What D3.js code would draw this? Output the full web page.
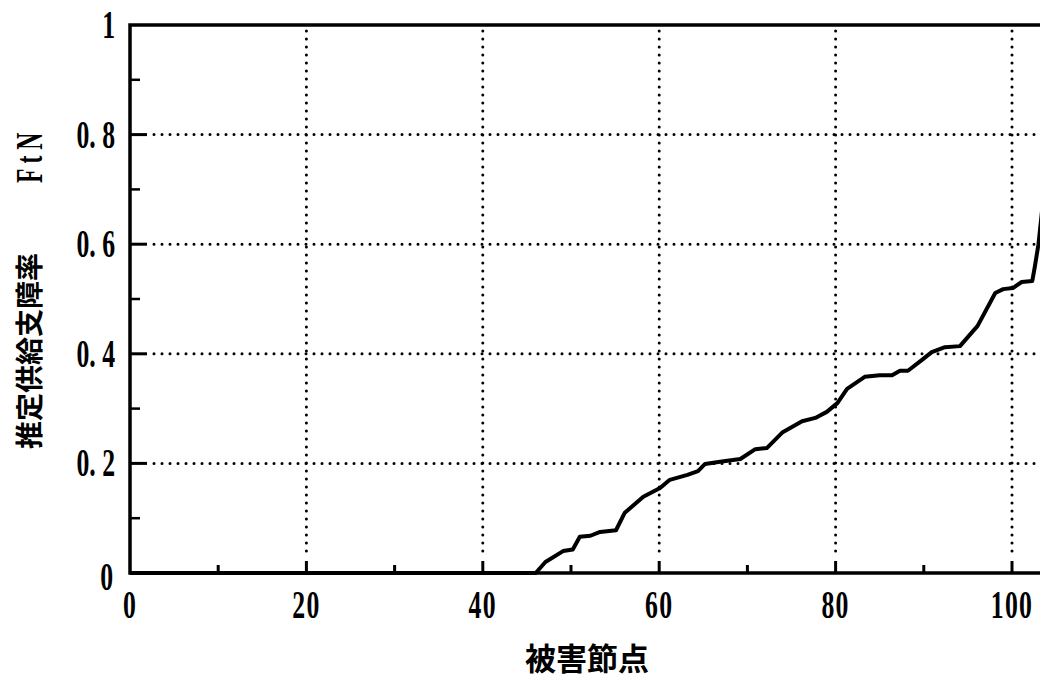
<!DOCTYPE html>
<html>
<head>
<meta charset="utf-8">
<script src="https://cdn.jsdelivr.net/npm/d3@7"></script>
<style>
	body { margin: 0; background: #fff; }
	.tick-label { font-family: "Liberation Serif", "DejaVu Serif", serif; font-size: 39px; font-weight: bold; fill: #000; }
	.title { font-family: "Noto Sans CJK JP", sans-serif; font-weight: bold; fill: #000; }
	.sub { font-family: "Liberation Serif", serif; font-weight: bold; fill: #000; }
</style>
</head>
<body>
<div id="graph"></div>
<script>
// Damaged node index vs estimated supply failure rate
var node_x = [0, 46, 47.1, 49.1, 50.2, 51.0, 52.2, 53.3, 55.1, 56.1, 58.2, 60.1, 61.2, 63.2, 64.4, 65.2,
	66.9, 69.2, 70.9, 72.2, 74.0, 76.2, 77.7, 79.0, 80.2, 81.3, 83.3, 85.0, 86.4, 87.3, 88.2, 89.8,
	90.9, 92.4, 94.1, 96.1, 98.1, 99.0, 100.1, 101.1, 102.3, 102.6, 103.0, 103.4, 103.6];
var fail_rate = [0, 0, 0.02, 0.04, 0.043, 0.066, 0.068, 0.075, 0.078, 0.11, 0.139, 0.155, 0.17, 0.179, 0.186, 0.199,
	0.203, 0.208, 0.226, 0.228, 0.257, 0.277, 0.283, 0.294, 0.31, 0.336, 0.358, 0.361, 0.361, 0.369, 0.369, 0.389,
	0.403, 0.412, 0.414, 0.451, 0.511, 0.518, 0.52, 0.531, 0.533, 0.56, 0.6, 0.66, 0.7];
var x_major = [0, 20, 40, 60, 80, 100];
var x_minor = [10, 30, 50, 70, 90];
var y_major = [0, 0.2, 0.4, 0.6, 0.8, 1];
var y_minor = [0.1, 0.3, 0.5, 0.7, 0.9];
var x_title = "被害節点";
var y_title = "推定供給支障率";
var y_symbol = "F t N";

var W = 1040, H = 681;
var left = 130, top_y = 25, bottom_y = 573;
var squeeze = 0.66;	// narrow printer-style digits

var scale_x = d3.scaleLinear().domain([0, 104]).range([left, left + 104 * 8.82]);
var scale_y = d3.scaleLinear().domain([0, 1]).range([bottom_y, top_y]);

var svg = d3.select("#graph").append("svg")
	.attr("width", W)
	.attr("height", H);

svg.append("clipPath").attr("id", "plot")
	.append("rect")
	.attr("x", left).attr("y", top_y - 2)
	.attr("width", W - left).attr("height", bottom_y - top_y + 4);

// Dotted grid lines
svg.selectAll(".vgrid")
	.data(x_major.filter(function(d) { return d > 0; }))
	.enter().append("line")
	.attr("x1", function(d) { return scale_x(d); })
	.attr("x2", function(d) { return scale_x(d); })
	.attr("y1", top_y + 6)
	.attr("y2", bottom_y - 14)
	.attr("stroke", "#000")
	.attr("stroke-width", 3)
	.attr("stroke-linecap", "round")
	.attr("stroke-dasharray", "0,8");

svg.selectAll(".hgrid")
	.data(y_major.filter(function(d) { return d > 0 && d < 1; }))
	.enter().append("line")
	.attr("x1", left + 24)
	.attr("x2", W)
	.attr("y1", function(d) { return scale_y(d); })
	.attr("y2", function(d) { return scale_y(d); })
	.attr("stroke", "#000")
	.attr("stroke-width", 3)
	.attr("stroke-linecap", "round")
	.attr("stroke-dasharray", "0,8");

// Solid tick stubs
svg.selectAll(".ytick")
	.data(y_major.filter(function(d) { return d > 0 && d < 1; }))
	.enter().append("line")
	.attr("x1", left).attr("x2", left + 17)
	.attr("y1", function(d) { return scale_y(d); })
	.attr("y2", function(d) { return scale_y(d); })
	.attr("stroke", "#000").attr("stroke-width", 3);

svg.selectAll(".yminor")
	.data(y_minor)
	.enter().append("line")
	.attr("x1", left).attr("x2", left + 10)
	.attr("y1", function(d) { return scale_y(d); })
	.attr("y2", function(d) { return scale_y(d); })
	.attr("stroke", "#000").attr("stroke-width", 2.5);

svg.selectAll(".xtick")
	.data(x_major.filter(function(d) { return d > 0; }))
	.enter().append("line")
	.attr("x1", function(d) { return scale_x(d); })
	.attr("x2", function(d) { return scale_x(d); })
	.attr("y1", bottom_y).attr("y2", bottom_y - 12)
	.attr("stroke", "#000").attr("stroke-width", 3);

svg.selectAll(".xminor")
	.data(x_minor)
	.enter().append("line")
	.attr("x1", function(d) { return scale_x(d); })
	.attr("x2", function(d) { return scale_x(d); })
	.attr("y1", bottom_y).attr("y2", bottom_y - 8)
	.attr("stroke", "#000").attr("stroke-width", 3);

// Frame (left, bottom, top)
svg.append("path")
	.attr("d", "M" + W + "," + top_y + "H" + left + "V" + bottom_y + "H" + W)
	.attr("fill", "none")
	.attr("stroke", "#000")
	.attr("stroke-width", 3.5);

// Curve
var line = d3.line()
	.x(function(d, i) { return scale_x(node_x[i]); })
	.y(function(d) { return scale_y(d); });

svg.append("path")
	.attr("clip-path", "url(#plot)")
	.attr("fill", "none")
	.attr("stroke", "#000")
	.attr("stroke-width", 4)
	.attr("stroke-linejoin", "round")
	.attr("d", line(fail_rate));

// Tick labels
svg.selectAll(".xlab")
	.data(x_major)
	.enter().append("text")
	.attr("class", "tick-label")
	.attr("transform", function(d) { return "translate(" + scale_x(d) + ",618) scale(" + squeeze + ",1)"; })
	.attr("text-anchor", "middle")
	.style("letter-spacing", "2px")
	.text(function(d) { return d; });

svg.selectAll(".ylab")
	.data(y_major)
	.enter().append("text")
	.attr("class", "tick-label")
	.attr("transform", function(d) {
		var x = d === 0 ? 113 : 115;
		var y = scale_y(d) + 13 + (d === 0 ? 4 : 0);
		return "translate(" + x + "," + y + ") scale(" + squeeze + ",1)";
	})
	.attr("text-anchor", "end")
	.text(function(d) { return d === 0 || d === 1 ? d : d.toFixed(1).replace(".", ". "); });

// Axis titles
svg.append("text")
	.attr("class", "title")
	.attr("x", 587)
	.attr("y", 670)
	.attr("text-anchor", "middle")
	.style("font-size", "31px")
	.text(x_title);

svg.append("text")
	.attr("class", "title")
	.attr("transform", "translate(40,449) rotate(-90)")
	.attr("text-anchor", "start")
	.style("font-size", "28px")
	.text(y_title);

svg.append("text")
	.attr("class", "sub")
	.attr("transform", "translate(42,183) rotate(-90) scale(0.62,1)")
	.attr("text-anchor", "start")
	.style("font-size", "38px")
	.text(y_symbol);
</script>
</body>
</html>
